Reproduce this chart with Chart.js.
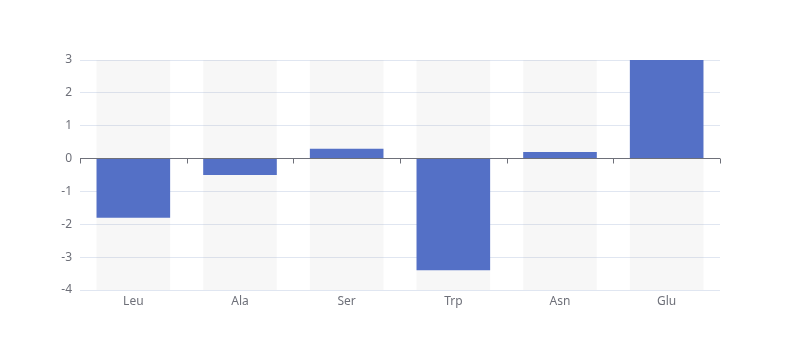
<!DOCTYPE html>
<html>
<head>
<meta charset="utf-8">
<script src="https://cdn.jsdelivr.net/npm/chart.js@4/dist/chart.umd.min.js"></script>
<style>
html,body{margin:0;padding:0;background:#fff;}
#wrap{width:800px;height:360px;position:relative;}
</style>
</head>
<body>
<div id="wrap"><canvas id="c" width="800" height="360"></canvas></div>
<script>
const categories = ['Leu', 'Ala', 'Ser', 'Trp', 'Asn', 'Glu'];
const values = [-1.8, -0.5, 0.3, -3.4, 0.2, 3];
const yMin = -4;
const yMax = 3;

const zeroAxisPlugin = {
  id: 'zeroAxis',
  afterDatasetsDraw(chart) {
    const ctx = chart.ctx;
    const y = chart.scales.y;
    const y0 = Math.round(y.getPixelForValue(0)) - 0.5;
    ctx.save();
    ctx.strokeStyle = '#6E7079';
    ctx.lineWidth = 1;
    ctx.beginPath();
    ctx.moveTo(chart.chartArea.left, y0);
    ctx.lineTo(chart.chartArea.right, y0);
    const n = categories.length;
    const step = (chart.chartArea.right - chart.chartArea.left) / n;
    for (let i = 0; i <= n; i++) {
      const px = Math.round(chart.chartArea.left + i * step) + 0.5;
      ctx.moveTo(px, y0);
      ctx.lineTo(px, y0 + 5);
    }
    ctx.stroke();
    ctx.restore();
  }
};

const font = { size: 12, family: "'Noto Sans', sans-serif" };

new Chart(document.getElementById('c'), {
  type: 'bar',
  data: {
    labels: categories,
    datasets: [
      {
        data: values,
        backgroundColor: '#5470c6',
        barPercentage: 0.69,
        categoryPercentage: 1,
        grouped: false,
        order: 1
      },
      {
        data: categories.map(() => [yMin, yMax]),
        backgroundColor: 'rgba(180,180,180,0.1)',
        barPercentage: 0.69,
        categoryPercentage: 1,
        grouped: false,
        order: 2
      }
    ]
  },
  options: {
    responsive: false,
    animation: false,
    devicePixelRatio: 1,
    layout: { padding: { left: 0, right: 80, top: 60, bottom: 0 } },
    plugins: { legend: { display: false }, tooltip: { enabled: false } },
    scales: {
      x: {
        grid: { display: false, drawTicks: false },
        border: { display: false },
        ticks: { color: '#6E7079', font: font, padding: 4 },
        afterFit(s) { s.height = 70; }
      },
      y: {
        min: yMin,
        max: yMax,
        ticks: { stepSize: 1, color: '#6E7079', font: font, padding: 8 },
        grid: { color: '#E0E6F1', drawTicks: false },
        border: { display: false },
        afterFit(s) { s.width = 80; }
      }
    }
  },
  plugins: [zeroAxisPlugin]
});
</script>
</body>
</html>
